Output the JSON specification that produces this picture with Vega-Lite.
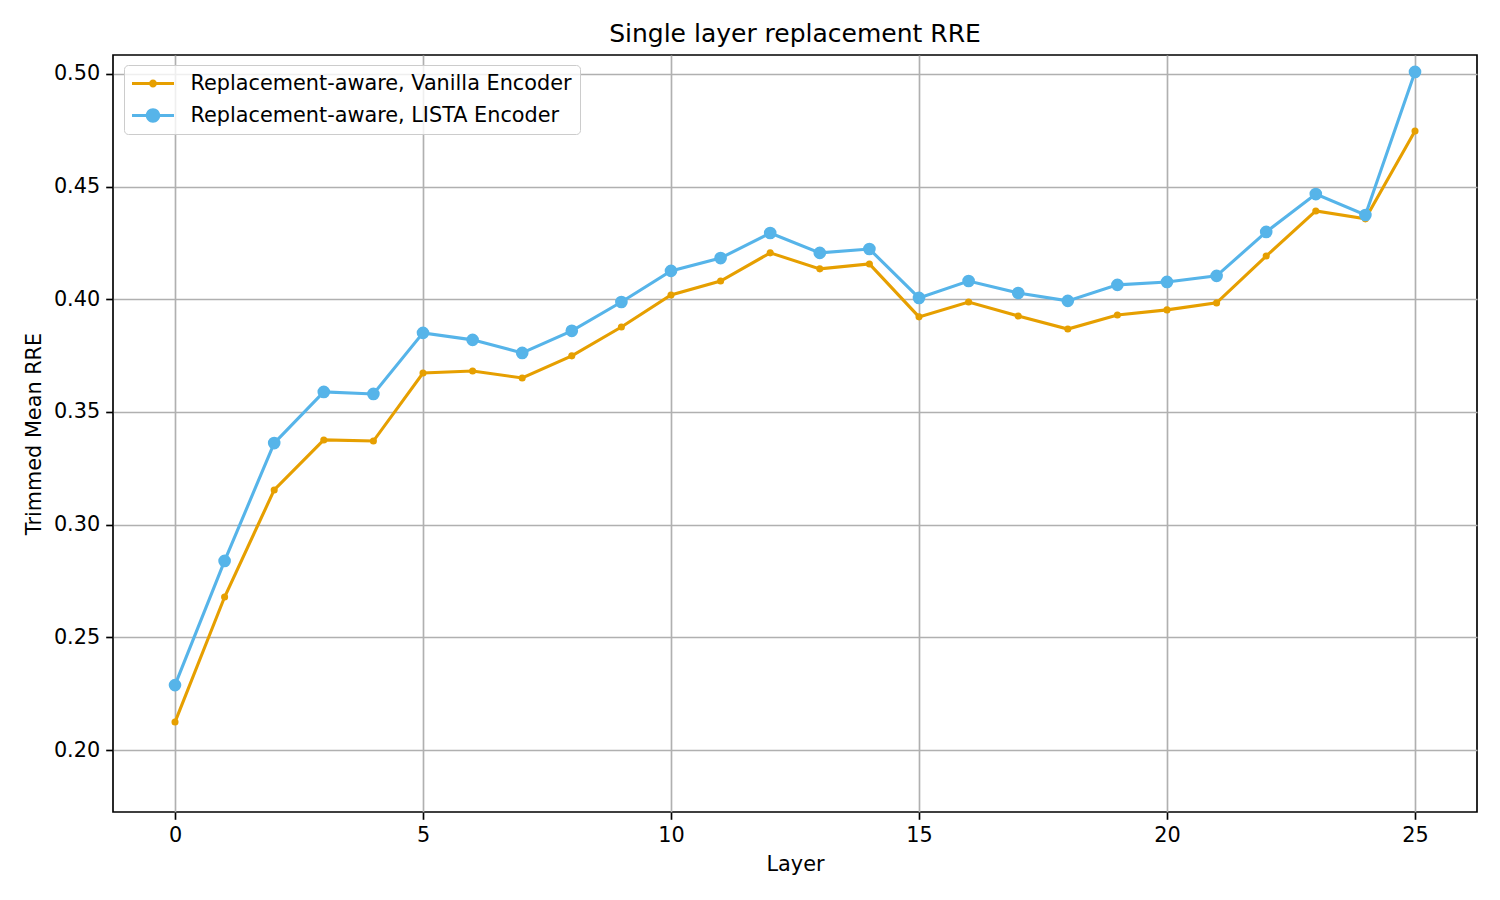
{
  "$schema": "https://vega.github.io/schema/vega-lite/v6.json",
  "autosize": {"type": "none"},
  "width": 1364,
  "height": 757,
  "padding": {"left": 113, "top": 55, "right": 23, "bottom": 88},
  "background": "white",
  "title": {
    "text": "Single layer replacement RRE",
    "font": "DejaVu Sans",
    "fontSize": 25,
    "fontWeight": "normal",
    "color": "black",
    "anchor": "middle",
    "offset": 8
  },
  "data": {
    "values": [
      {"layer": 0, "series": "Replacement-aware, Vanilla Encoder", "rre": 0.2124},
      {"layer": 1, "series": "Replacement-aware, Vanilla Encoder", "rre": 0.2679},
      {"layer": 2, "series": "Replacement-aware, Vanilla Encoder", "rre": 0.3154},
      {"layer": 3, "series": "Replacement-aware, Vanilla Encoder", "rre": 0.3376},
      {"layer": 4, "series": "Replacement-aware, Vanilla Encoder", "rre": 0.3371},
      {"layer": 5, "series": "Replacement-aware, Vanilla Encoder", "rre": 0.3673},
      {"layer": 6, "series": "Replacement-aware, Vanilla Encoder", "rre": 0.3682},
      {"layer": 7, "series": "Replacement-aware, Vanilla Encoder", "rre": 0.3651},
      {"layer": 8, "series": "Replacement-aware, Vanilla Encoder", "rre": 0.3749},
      {"layer": 9, "series": "Replacement-aware, Vanilla Encoder", "rre": 0.3877},
      {"layer": 10, "series": "Replacement-aware, Vanilla Encoder", "rre": 0.4019},
      {"layer": 11, "series": "Replacement-aware, Vanilla Encoder", "rre": 0.4081},
      {"layer": 12, "series": "Replacement-aware, Vanilla Encoder", "rre": 0.4206},
      {"layer": 13, "series": "Replacement-aware, Vanilla Encoder", "rre": 0.4135},
      {"layer": 14, "series": "Replacement-aware, Vanilla Encoder", "rre": 0.4157},
      {"layer": 15, "series": "Replacement-aware, Vanilla Encoder", "rre": 0.3922},
      {"layer": 16, "series": "Replacement-aware, Vanilla Encoder", "rre": 0.3988},
      {"layer": 17, "series": "Replacement-aware, Vanilla Encoder", "rre": 0.3926},
      {"layer": 18, "series": "Replacement-aware, Vanilla Encoder", "rre": 0.3868},
      {"layer": 19, "series": "Replacement-aware, Vanilla Encoder", "rre": 0.3930},
      {"layer": 20, "series": "Replacement-aware, Vanilla Encoder", "rre": 0.3953},
      {"layer": 21, "series": "Replacement-aware, Vanilla Encoder", "rre": 0.3984},
      {"layer": 22, "series": "Replacement-aware, Vanilla Encoder", "rre": 0.4192},
      {"layer": 23, "series": "Replacement-aware, Vanilla Encoder", "rre": 0.4392},
      {"layer": 24, "series": "Replacement-aware, Vanilla Encoder", "rre": 0.4357},
      {"layer": 25, "series": "Replacement-aware, Vanilla Encoder", "rre": 0.4747},
      {"layer": 0, "series": "Replacement-aware, LISTA Encoder", "rre": 0.2288},
      {"layer": 1, "series": "Replacement-aware, LISTA Encoder", "rre": 0.2839},
      {"layer": 2, "series": "Replacement-aware, LISTA Encoder", "rre": 0.3362},
      {"layer": 3, "series": "Replacement-aware, LISTA Encoder", "rre": 0.3589},
      {"layer": 4, "series": "Replacement-aware, LISTA Encoder", "rre": 0.3580},
      {"layer": 5, "series": "Replacement-aware, LISTA Encoder", "rre": 0.3851},
      {"layer": 6, "series": "Replacement-aware, LISTA Encoder", "rre": 0.3820},
      {"layer": 7, "series": "Replacement-aware, LISTA Encoder", "rre": 0.3762},
      {"layer": 8, "series": "Replacement-aware, LISTA Encoder", "rre": 0.3860},
      {"layer": 9, "series": "Replacement-aware, LISTA Encoder", "rre": 0.3988},
      {"layer": 10, "series": "Replacement-aware, LISTA Encoder", "rre": 0.4126},
      {"layer": 11, "series": "Replacement-aware, LISTA Encoder", "rre": 0.4183},
      {"layer": 12, "series": "Replacement-aware, LISTA Encoder", "rre": 0.4294},
      {"layer": 13, "series": "Replacement-aware, LISTA Encoder", "rre": 0.4206},
      {"layer": 14, "series": "Replacement-aware, LISTA Encoder", "rre": 0.4223},
      {"layer": 15, "series": "Replacement-aware, LISTA Encoder", "rre": 0.4006},
      {"layer": 16, "series": "Replacement-aware, LISTA Encoder", "rre": 0.4081},
      {"layer": 17, "series": "Replacement-aware, LISTA Encoder", "rre": 0.4028},
      {"layer": 18, "series": "Replacement-aware, LISTA Encoder", "rre": 0.3993},
      {"layer": 19, "series": "Replacement-aware, LISTA Encoder", "rre": 0.4064},
      {"layer": 20, "series": "Replacement-aware, LISTA Encoder", "rre": 0.4077},
      {"layer": 21, "series": "Replacement-aware, LISTA Encoder", "rre": 0.4104},
      {"layer": 22, "series": "Replacement-aware, LISTA Encoder", "rre": 0.4299},
      {"layer": 23, "series": "Replacement-aware, LISTA Encoder", "rre": 0.4467},
      {"layer": 24, "series": "Replacement-aware, LISTA Encoder", "rre": 0.4374},
      {"layer": 25, "series": "Replacement-aware, LISTA Encoder", "rre": 0.5009}
    ]
  },
  "encoding": {
    "x": {
      "field": "layer",
      "type": "quantitative",
      "title": "Layer",
      "scale": {"domain": [-1.25, 26.25], "nice": false, "zero": false},
      "axis": {"values": [0, 5, 10, 15, 20, 25], "format": "d"}
    },
    "y": {
      "field": "rre",
      "type": "quantitative",
      "title": "Trimmed Mean RRE",
      "scale": {"domain": [0.1725, 0.5084], "nice": false, "zero": false},
      "axis": {"values": [0.2, 0.25, 0.3, 0.35, 0.4, 0.45, 0.5], "format": ".2f"}
    },
    "color": {
      "field": "series",
      "type": "nominal",
      "scale": {
        "domain": ["Replacement-aware, Vanilla Encoder", "Replacement-aware, LISTA Encoder"],
        "range": ["#E69F00", "#56B4E9"]
      },
      "legend": {
        "title": null,
        "orient": "none",
        "legendX": 11,
        "legendY": 10,
        "direction": "vertical",
        "fillColor": "rgba(255,255,255,0.8)",
        "strokeColor": "#cccccc",
        "cornerRadius": 4,
        "padding": 8,
        "rowPadding": 10,
        "symbolSize": 441,
        "symbolOffset": 10.5,
        "symbolStrokeWidth": 0,
        "labelOffset": 27,
        "labelFont": "DejaVu Sans",
        "labelFontSize": 20.8,
        "labelColor": "black",
        "labelLimit": 1000,
        "encode": {
          "symbols": {
            "update": {
              "shape": [
                {"test": "datum.value === 'Replacement-aware, LISTA Encoder'", "value": "M-2,-0.15H2V0.15H-2Z M0.69,0A0.69,0.69 0 1,1 -0.69,0A0.69,0.69 0 1,1 0.69,0Z"},
                {"value": "M-2,-0.15H2V0.15H-2Z M0.38,0A0.38,0.38 0 1,1 -0.38,0A0.38,0.38 0 1,1 0.38,0Z"}
              ],
              "fill": {"scale": "color", "field": "value"},
              "fillOpacity": {"value": 1},
              "opacity": {"value": 1},
              "strokeWidth": {"value": 0},
              "size": {"value": 441}
            }
          }
        }
      }
    }
  },
  "layer": [
    {
      "transform": [{"filter": "datum.series === 'Replacement-aware, Vanilla Encoder'"}],
      "mark": {"type": "line", "strokeWidth": 3.1}
    },
    {
      "transform": [{"filter": "datum.series === 'Replacement-aware, Vanilla Encoder'"}],
      "mark": {"type": "point", "filled": true, "opacity": 1, "size": 50}
    },
    {
      "transform": [{"filter": "datum.series === 'Replacement-aware, LISTA Encoder'"}],
      "mark": {"type": "line", "strokeWidth": 3.1}
    },
    {
      "transform": [{"filter": "datum.series === 'Replacement-aware, LISTA Encoder'"}],
      "mark": {"type": "point", "filled": true, "opacity": 1, "size": 160}
    }
  ],
  "config": {
    "view": {"stroke": "black", "strokeWidth": 1.67},
    "font": "DejaVu Sans",
    "axis": {
      "domain": false,
      "grid": true,
      "gridColor": "#b0b0b0",
      "gridWidth": 1.67,
      "gridOpacity": 1,
      "ticks": true,
      "tickColor": "black",
      "tickWidth": 1.67,
      "tickSize": 7.3,
      "labelPadding": 6,
      "labelFont": "DejaVu Sans",
      "labelFontSize": 20.8,
      "labelColor": "black",
      "titleFont": "DejaVu Sans",
      "titleFontSize": 20.8,
      "titleFontWeight": "normal",
      "titleColor": "black",
      "titlePadding": 9,
      "labelFlush": false,
      "labelOverlap": false
    }
  }
}
